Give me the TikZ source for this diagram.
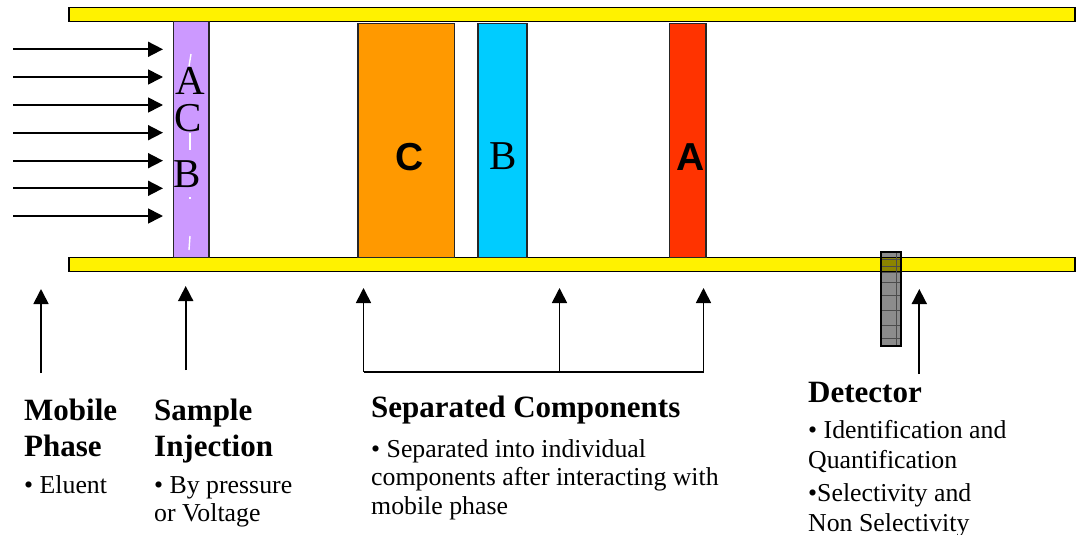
\documentclass[tikz,border=0pt]{standalone}
\usepackage{fontspec}
\setmainfont{Liberation Serif}
\newfontfamily\sansbold{Liberation Sans}
\usetikzlibrary{arrows.meta}
\begin{document}
\begin{tikzpicture}[x=1pt,y=-1pt,
  bar/.style={draw=black,line width=1.6pt,fill=yellow},
  band/.style={draw=black!85,line width=1.6pt},
  flow/.style={line width=1.7pt,-{Triangle[length=15pt,width=15pt]}},
  link/.style={line width=1.7pt},
  head/.style={anchor=base west,inner sep=0pt,font=\fontsize{31}{34}\selectfont\bfseries},
  body/.style={anchor=base west,inner sep=0pt,font=\fontsize{25.8}{30}\selectfont},
  serifletter/.style={anchor=base,inner sep=0pt,font=\fontsize{41}{41}\selectfont},
  sansletter/.style={anchor=base,inner sep=0pt,font=\fontsize{39}{39}\sansbold\bfseries},
]
\useasboundingbox (0,0) rectangle (1076,535);

% column walls
\draw[bar] (69,7.5) rectangle (1075,21.5);
\draw[bar] (69,257.5) rectangle (1075,271.5);

% injected sample plug
\draw[band,fill={rgb,255:red,204;green,153;blue,255}] (173.5,21.5) rectangle (209,257.5);
\begin{scope}[white,line width=1.4pt]
  \draw (191,54) -- (189,66);
  \draw (190,133) -- (190,150);
  \draw (190,197) -- (190,199);
  \draw (190,236) -- (189,250);
\end{scope}
\node[serifletter] (pa) at (190,95) {A};
\node[serifletter] (pc) at (188,131.5) {C};
\node[serifletter] (pb) at (187,187.5) {B};

% separated bands
\draw[band,fill={rgb,255:red,255;green,153;blue,0}] (358,23.5) rectangle (454.5,257.5);
\draw[band,fill={rgb,255:red,0;green,204;blue,255}] (478,23.5) rectangle (527,257.5);
\draw[band,fill={rgb,255:red,255;green,51;blue,0}] (669.5,23.5) rectangle (706,257.5);
\node[sansletter] (sc) at (410,170.5) {C};
\node[serifletter] (sb) at (502.7,169.5) {B};
\node[sansletter] (sa) at (691,170.5) {A};

% detector cell
\fill[black,opacity=0.45] (881,252) rectangle (901,346);
\begin{scope}[black!70,line width=0.5pt]
  \foreach \yy in {259,266,272,282,295,310,325,338}
    \draw (881,\yy) -- (901,\yy);
  \draw (896.5,252) -- (896.5,346);
\end{scope}
\draw[line width=1.6pt] (881,252) rectangle (901,346);

% mobile phase flow
\foreach \yy in {49.3,77,105,132.7,160.7,188.3,216}
  \draw[flow] (13,\yy) -- (163,\yy);

% pointers
\coordinate (mpB) at (41,373);   \coordinate (mpT) at (41,289);
\coordinate (siB) at (185.7,370); \coordinate (siT) at (185.7,286);
\coordinate (c1B) at (363.5,372); \coordinate (c1T) at (363.5,288);
\coordinate (c2B) at (559.5,372); \coordinate (c2T) at (559.5,288);
\coordinate (c3B) at (703.5,372); \coordinate (c3T) at (703.5,288);
\coordinate (dtB) at (919.3,374); \coordinate (dtT) at (919.3,289);
\draw[flow] (mpB) -- (mpT);
\draw[flow] (siB) -- (siT);
\draw[flow] (dtB) -- (dtT);
\draw[link] (c1B) -- (c3B);
\draw[flow] (c1B) -- (c1T);
\draw[flow] (c2B) -- (c2T);
\draw[flow] (c3B) -- (c3T);

% captions
\node[head] (mp1) at (24,420) {Mobile};
\node[head] (mp2) at (24,456) {Phase};
\node[body] (mp3) at (24,493) {• Eluent};

\node[head] (si1) at (154,420) {Sample};
\node[head] (si2) at (154,456) {Injection};
\node[body] (si3) at (154,493) {• By pressure};
\node[body] (si4) at (154,521) {or Voltage};

\node[head] (sc1) at (371,417.5) {Separated Components};
\node[body] (sc2) at (371,457) {• Separated into individual};
\node[body] (sc3) at (371,485.5) {components after interacting with};
\node[body] (sc4) at (371,514) {mobile phase};

\node[head] (dt1) at (808,402.5) {Detector};
\node[body] (dt2) at (808,438.5) {• Identification and};
\node[body] (dt3) at (808,468) {Quantification};
\node[body] (dt4) at (808,501) {•Selectivity and};
\node[body] (dt5) at (808,531) {Non Selectivity};
\end{tikzpicture}
\end{document}
